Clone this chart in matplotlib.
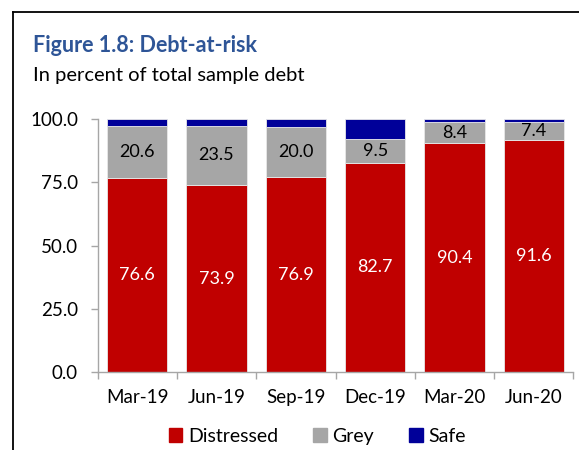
import numpy as np
import matplotlib
matplotlib.use("Agg")
import matplotlib.pyplot as plt
from matplotlib.lines import Line2D
from matplotlib.patches import Patch

# data
quarters = ["Mar-19", "Jun-19", "Sep-19", "Dec-19", "Mar-20", "Jun-20"]
distressed = [76.6, 73.9, 76.9, 82.7, 90.4, 91.6]
grey = [20.6, 23.5, 20.0, 9.5, 8.4, 7.4]
safe = [2.8, 2.6, 3.1, 7.8, 1.2, 1.0]

red = "#C00000"
gry = "#A6A6A6"
blue = "#000099"
spine_col = "#A6A6A6"

plt.rcParams['font.family'] = ['Lato', 'DejaVu Sans']

fig = plt.figure(figsize=(5.79, 4.5), dpi=100)
ax = fig.add_axes([0.1684, 0.1733, 0.8221, 0.5622])

x = np.arange(len(quarters))
w = 0.76
d = np.array(distressed)
g = np.array(grey)
s = np.array(safe)
ax.bar(x, d, w, color=red, edgecolor="#E8E8E8", linewidth=0.6, label="Distressed")
ax.bar(x, g, w, bottom=d, color=gry, edgecolor="#E8E8E8", linewidth=0.6, label="Grey")
ax.bar(x, s, w, bottom=d + g, color=blue, edgecolor="#E8E8E8", linewidth=0.6, label="Safe")

for i in range(len(quarters)):
    ax.text(x[i], d[i] / 2, f"{d[i]:.1f}", ha="center", va="center",
            color="white", fontsize=13)
    ax.text(x[i], d[i] + g[i] / 2, f"{g[i]:.1f}", ha="center", va="center",
            color="black", fontsize=13)

ax.set_xlim(-0.5, len(quarters) - 0.5)
ax.set_ylim(0, 100)
ax.set_yticks([0, 25, 50, 75, 100])
ax.set_yticklabels([f"{v:.1f}" for v in [0, 25, 50, 75, 100]], fontsize=13.5)
ax.set_xticks(x)
ax.set_xticklabels(quarters, fontsize=13.5)
ax.set_xticks(np.arange(-0.5, len(quarters)), minor=True)
ax.tick_params(axis="x", which="major", length=0, pad=12)
ax.tick_params(axis="x", which="minor", length=5, color=spine_col, width=1)
ax.tick_params(axis="y", length=5, color=spine_col, width=1, pad=9)

for sp in ["top", "right"]:
    ax.spines[sp].set_visible(False)
for sp in ["left", "bottom"]:
    ax.spines[sp].set_color(spine_col)
    ax.spines[sp].set_linewidth(1)

handles = [Patch(color=red, label="Distressed"), Patch(color=gry, label="Grey"),
           Patch(color=blue, label="Safe")]
fig.legend(handles=handles, loc="center", bbox_to_anchor=(0.548, 0.03), ncol=3,
           frameon=False, fontsize=14, handlelength=0.7, handleheight=0.7,
           handletextpad=0.3, columnspacing=1.8)

fig.text(0.057, 0.898, "Figure 1.8: Debt-at-risk", fontsize=15.5, fontweight="bold",
         color="#2E5597", va="center")
fig.text(0.057, 0.833, "In percent of total sample debt", fontsize=14.5, color="black",
         va="center")

# box frame
fig.add_artist(Line2D([0.023, 0.023], [0.0, 0.973], color="black", lw=1.3))
fig.add_artist(Line2D([0.023, 1.0], [0.973, 0.973], color="black", lw=1.3))

fig.savefig("out.png", dpi=100)
